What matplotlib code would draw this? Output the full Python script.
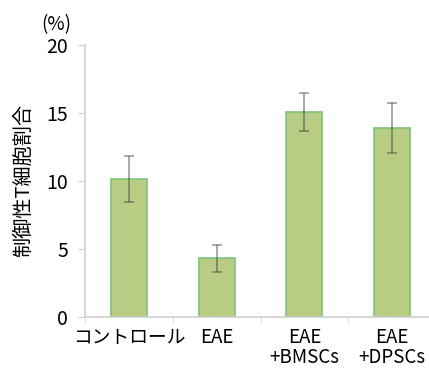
import matplotlib
matplotlib.use('Agg')
import matplotlib.pyplot as plt
import numpy as np

plt.rcParams['font.family'] = ['Noto Sans CJK JP', 'DejaVu Sans']

# regulatory T cell ratio per group (%)
groups = ['コントロール', 'EAE', 'EAE\n+BMSCs', 'EAE\n+DPSCs']
ratio = [10.15, 4.3, 15.1, 13.87]
ratio_err = [1.7, 1.0, 1.4, 1.85]

fig = plt.figure(figsize=(4.29, 3.68), dpi=100)
ax = fig.add_axes([85 / 429, 0.1394, 351 / 429, 0.7383])

x = np.arange(len(groups))
ax.bar(x, ratio, width=0.41, color='#b8cc84', edgecolor='#7cc47a', linewidth=1.2, zorder=2)
ax.errorbar(x, ratio, yerr=ratio_err, fmt='none', ecolor='#3a3a3a', elinewidth=1.1,
            capsize=3.5, capthick=1.1, alpha=0.55, zorder=3)

ax.set_xlim(-0.5, len(groups) - 0.5)
ax.set_ylim(0, 20)
ax.set_yticks([0, 5, 10, 15, 20])
ax.set_xticks(x)
ax.set_xticklabels(groups, fontsize=13.5, linespacing=0.93)
ax.set_xticks(np.arange(len(groups) + 1) - 0.5, minor=True)
ax.tick_params(axis='x', which='major', length=0, pad=7.5)
ax.tick_params(axis='x', which='minor', length=4, color='#d0d0d0')
ax.tick_params(axis='y', length=5, color='#d0d0d0', labelsize=14, pad=7)

for side in ['top', 'right']:
    ax.spines[side].set_visible(False)
for side in ['left', 'bottom']:
    ax.spines[side].set_color('#d0d0d0')
    ax.spines[side].set_linewidth(1.2)

ax.set_ylabel('制御性T細胞割合', fontsize=14.5, labelpad=9)
fig.text(56 / 429, 1 - 25 / 368, '(%)', fontsize=13.5, ha='center', va='center')

fig.savefig('out.png', dpi=100)
